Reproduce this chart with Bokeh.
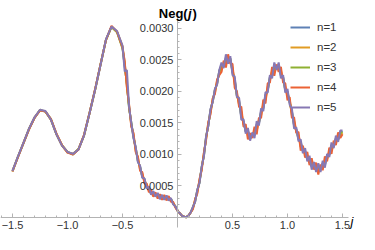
import numpy as np
from bokeh.plotting import figure
from bokeh.models import (FixedTicker, CustomJSTickFormatter, PrintfTickFormatter,
                          Legend, LegendItem, Label, Range1d)
from bokeh.embed import file_html
from bokeh.resources import INLINE

# sampling grid of j
x_left = np.arange(-1.5, -0.499, 0.05)
x_right = np.arange(-0.48, 1.501, 0.02)
xs = np.round(np.concatenate([x_left, x_right]), 3)

# Neg(j) values in units of 1e-4
n1 = [7.4, 9.6, 11.8, 14.0, 15.8, 17.0, 16.8, 15.5, 13.2, 11.4, 10.4, 10.1, 10.8, 13.0, 16.5, 20.2, 24.2, 28.2, 30.3, 29.5, 27.0,
      24.0, 21.3, 17.3, 15.1, 12.7, 11.1, 8.9, 8.1, 6.4, 6.1, 4.7, 4.7, 3.7, 4.0, 3.4, 3.7, 3.0, 3.5, 2.9, 3.4, 2.8, 3.0, 2.2, 1.8,
      1.1, 0.7, 0.3, 0.1, 0.05, 0.3, 0.8, 1.6, 2.5, 4.3, 5.5, 8.0, 9.8, 12.8, 14.6, 17.1, 18.4, 20.3, 21.2, 23.3,
      24.2, 24.0, 25.4, 24.7, 25.3, 23.0, 22.0, 19.3, 18.6, 15.9, 15.3, 13.6, 13.8, 12.5, 13.2, 13.0, 14.8, 14.9, 16.9, 17.3,
      19.5, 20.1, 22.3, 22.5, 24.1, 23.6, 24.2, 22.5, 22.3, 20.1, 20.0, 18.2, 16.9, 14.5, 14.0, 12.4, 12.0, 10.5, 10.6, 9.2,
      9.4, 8.0, 8.5, 7.5, 8.2, 7.5, 8.6, 8.3, 9.8, 9.9, 11.5, 11.3, 12.6, 12.3, 13.5, 13.7]
n2 = [7.4, 9.6, 11.9, 14.0, 15.9, 17.0, 16.8, 15.5, 13.2, 11.4, 10.3, 10.1, 10.8, 13.0, 16.5, 20.2, 24.2, 28.2, 30.3, 29.5, 27.2,
      24.6, 20.8, 17.7, 14.6, 13.2, 10.6, 9.5, 7.6, 7.0, 5.6, 5.2, 4.2, 4.2, 3.5, 3.8, 3.2, 3.5, 3.0, 3.4, 2.9, 3.2, 2.6, 2.4, 1.7,
      1.1, 0.7, 0.3, 0.1, 0.05, 0.3, 0.8, 1.4, 2.8, 4.0, 5.9, 7.7, 10.2, 12.5, 15.0, 16.6, 18.8, 19.8, 21.7, 22.8,
      23.5, 24.5, 24.4, 25.4, 24.8, 23.8, 21.2, 19.6, 17.9, 16.8, 14.8, 14.2, 13.0, 13.0, 12.8, 13.8, 13.8, 15.4, 16.2, 18.1,
      18.7, 20.7, 21.8, 23.3, 23.1, 24.0, 23.5, 23.3, 21.8, 20.7, 19.2, 18.7, 16.2, 15.3, 13.6, 13.0, 11.2, 11.0, 10.0, 9.8,
      8.7, 8.8, 8.0, 8.1, 7.4, 8.0, 7.9, 9.1, 9.3, 10.5, 10.7, 11.8, 11.9, 12.9, 13.0, 13.4]
n3 = [7.3, 9.7, 11.8, 14.1, 15.8, 17.1, 16.8, 15.6, 13.2, 11.5, 10.4, 10.0, 10.9, 13.0, 16.6, 20.2, 24.3, 28.2, 30.2, 29.4, 26.8,
      24.2, 21.2, 17.4, 15.0, 12.8, 11.0, 9.0, 8.0, 6.5, 6.0, 4.8, 4.6, 3.8, 3.9, 3.4, 3.6, 3.1, 3.4, 3.0, 3.3, 2.8, 3.0, 2.2, 1.8,
      1.1, 0.7, 0.3, 0.1, 0.05, 0.3, 0.8, 1.6, 2.6, 4.3, 5.6, 8.0, 9.8, 12.8, 14.6, 17.0, 18.4, 20.2, 21.3, 23.2,
      24.0, 24.1, 25.1, 24.8, 25.2, 23.2, 21.8, 19.3, 18.4, 16.1, 15.2, 13.7, 13.6, 12.6, 13.1, 13.2, 14.5, 15.0, 16.7, 17.5,
      19.3, 20.2, 22.2, 22.7, 23.8, 23.6, 24.0, 22.7, 22.2, 20.2, 19.8, 18.3, 16.7, 14.7, 13.9, 12.5, 11.8, 10.6, 10.4, 9.3,
      9.2, 8.2, 8.4, 7.6, 8.0, 7.6, 8.4, 8.5, 9.7, 10.0, 11.3, 11.4, 12.4, 12.4, 13.4, 13.6]
n4 = [7.3, 9.6, 11.8, 14.0, 15.8, 17.0, 16.8, 15.6, 13.3, 11.5, 10.3, 10.0, 10.8, 13.1, 16.6, 20.3, 24.3, 28.2, 30.4, 29.5, 27.0,
      24.8, 20.6, 17.9, 14.4, 13.4, 10.4, 9.7, 7.4, 7.2, 5.4, 5.4, 4.0, 4.4, 3.3, 4.0, 3.0, 3.7, 2.8, 3.6, 2.7, 3.4, 2.5, 2.5, 1.6,
      1.1, 0.7, 0.3, 0.1, 0.05, 0.3, 0.8, 1.3, 2.9, 3.8, 6.1, 7.5, 10.3, 12.3, 15.1, 16.4, 18.9, 19.6, 21.9, 22.6,
      23.1, 24.9, 23.8, 25.9, 24.4, 24.4, 20.6, 20.0, 17.5, 17.6, 14.4, 14.8, 12.4, 13.4, 12.6, 14.4, 13.2, 15.8, 15.8, 18.7,
      18.1, 21.3, 21.4, 23.9, 22.5, 24.3, 23.1, 23.9, 21.4, 21.3, 18.6, 19.1, 15.8, 15.9, 13.4, 13.6, 10.6, 11.4, 9.5, 10.4,
      8.3, 9.4, 7.6, 8.7, 6.8, 8.4, 7.5, 9.7, 8.9, 11.1, 10.1, 12.2, 11.5, 13.5, 12.6, 13.2]
n5 = [7.4, 9.7, 11.9, 14.1, 15.9, 17.1, 16.9, 15.5, 13.2, 11.4, 10.4, 10.1, 10.8, 13.0, 16.5, 20.2, 24.2, 28.3, 30.3, 29.6, 27.3,
      23.2, 23.4, 17.6, 15.0, 12.6, 11.2, 8.8, 8.2, 6.3, 6.2, 4.6, 4.9, 3.6, 4.2, 3.3, 3.9, 2.9, 3.6, 2.8, 3.5, 2.7, 3.1, 2.1, 1.8,
      1.1, 0.7, 0.3, 0.1, 0.05, 0.3, 0.8, 1.7, 2.5, 4.4, 5.5, 8.1, 9.7, 12.9, 14.5, 17.2, 18.3, 20.4, 21.1, 23.4,
      24.6, 23.7, 25.9, 24.4, 25.6, 22.6, 22.4, 19.1, 19.0, 15.5, 15.6, 13.3, 14.2, 12.2, 13.5, 12.6, 15.3, 14.6, 17.3, 16.9,
      19.9, 19.8, 22.6, 22.1, 24.6, 23.4, 24.6, 22.1, 22.6, 19.8, 20.4, 17.9, 17.3, 14.1, 14.3, 12.1, 12.4, 10.2, 11.0, 8.9,
      9.8, 7.6, 8.8, 7.2, 8.6, 7.2, 9.0, 7.9, 10.1, 9.6, 11.9, 11.0, 13.0, 12.0, 13.8, 13.8]

labels = ["n=1", "n=2", "n=3", "n=4", "n=5"]
colors = ["#5E81B5", "#E19C24", "#8FB032", "#EB6235", "#8778B3"]
series = [n1, n2, n3, n4, n5]
UNIT = 1e-4

x_major = [-1.5, -1.0, -0.5, 0.5, 1.0, 1.5]
x_minor = [-1.6, -1.4, -1.3, -1.2, -1.1, -0.9, -0.8, -0.7, -0.6, -0.4, -0.3, -0.2, -0.1,
           0.1, 0.2, 0.3, 0.4, 0.6, 0.7, 0.8, 0.9, 1.1, 1.2, 1.3, 1.4]
y_major = [0.0005, 0.0010, 0.0015, 0.0020, 0.0025, 0.0030]
y_minor = [round(k * 1e-4, 4) for k in range(1, 32) if k % 5]

p = figure(width=359, height=234, x_range=Range1d(-1.609, 1.6545),
           y_range=Range1d(-0.00027, 0.003444), output_backend="svg",
           toolbar_location=None, min_border=0)
p.outline_line_color = None
p.grid.visible = False

rends = []
for lab, ys, col in zip(labels, series, colors):
    r = p.line(xs, np.array(ys) * UNIT, line_color=col, line_width=2)
    rends.append((lab, r))

xa = p.xaxis[0]
ya = p.yaxis[0]
xa.fixed_location = 0
ya.fixed_location = 0
xa.ticker = FixedTicker(ticks=x_major, minor_ticks=x_minor)
ya.ticker = FixedTicker(ticks=y_major, minor_ticks=y_minor)
xa.formatter = CustomJSTickFormatter(code="return tick.toFixed(1).replace('-', '\u2212');")
ya.formatter = PrintfTickFormatter(format="%.4f")
xa.bounds = (-1.609, 1.55)
ya.bounds = (-0.00016, 0.00318)
for ax in (xa, ya):
    ax.axis_line_color = "#b3b3b3"
    ax.major_tick_line_color = "#b3b3b3"
    ax.minor_tick_line_color = "#b3b3b3"
    ax.major_tick_in = 4
    ax.major_tick_out = 0
    ax.minor_tick_in = 2
    ax.minor_tick_out = 0
    ax.major_label_text_font = "Liberation Sans"
    ax.major_label_text_font_size = "11px"
    ax.major_label_text_color = "#333333"
    ax.major_label_standoff = 4

legend = Legend(items=[LegendItem(label=l, renderers=[r]) for l, r in rends],
                location=(290, 118), glyph_width=20, glyph_height=18, label_height=18,
                spacing=2, padding=0, margin=0, label_standoff=7,
                background_fill_alpha=0, border_line_alpha=0,
                label_text_font="Liberation Sans", label_text_font_size="11.5px",
                label_text_color="#333333")
p.add_layout(legend)

ylab_y = 0.003238
common = dict(text_font="Liberation Sans", text_font_size="13px", text_color="black",
              text_baseline="alphabetic")
p.add_layout(Label(x=0, y=ylab_y, text="Neg(", text_align="right", x_offset=10.2,
                   text_font_style="bold", **common))
p.add_layout(Label(x=0, y=ylab_y, text="j", text_align="left", x_offset=10.6,
                   text_font_style="bold italic", **common))
p.add_layout(Label(x=0, y=ylab_y, text=")", text_align="left", x_offset=15.0,
                   text_font_style="bold", **common))
p.add_layout(Label(x=1.5727, y=-0.0000635, text="j", text_align="left",
                   text_font_style="italic", **common))

open("out.html", "w", encoding="utf-8").write(file_html(p, INLINE))
